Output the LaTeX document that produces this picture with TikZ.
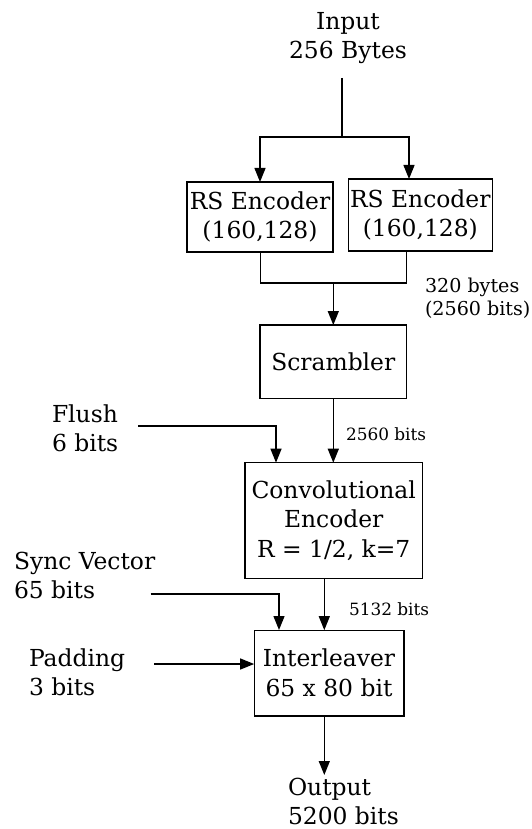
\documentclass[tikz,border=0pt]{standalone}
\usepackage{fontspec}
\setmainfont{DejaVu Serif}
\usetikzlibrary{arrows.meta}
\tikzset{
  x=1pt, y=-1pt,
  every node/.style={inner sep=0pt, outer sep=0pt},
  blk/.style={draw, line width=1.3pt, align=center, font=\fontsize{23.4}{29.5}\selectfont},
  lbl/.style={align=left, font=\fontsize{23.4}{29}\selectfont},
  clbl/.style={align=center, font=\fontsize{23.4}{29}\selectfont},
  midlbl/.style={align=left, font=\fontsize{19.1}{23}\selectfont},
  smalllbl/.style={align=left, font=\fontsize{16.9}{20}\selectfont},
  wire/.style={line width=1.3pt},
  arr/.style={wire, -{Triangle[length=14pt,width=11pt]}}
}
\begin{document}
\begin{tikzpicture}
\useasboundingbox (0,0) rectangle (531,829);

% processing blocks
\node[blk, minimum width=146pt, minimum height=70pt] (rs1) at (260,217) {RS Encoder\\(160,128)};
\node[blk, minimum width=144pt, minimum height=72pt] (rs2) at (420.3,215) {RS Encoder\\(160,128)};
\node[blk, minimum width=146.7pt, minimum height=73.3pt] (scr) at (333.3,361.7) {Scrambler};
\node[blk, minimum width=177.3pt, minimum height=115.6pt] (conv) at (333.7,520.5) {Convolutional\\Encoder\\R = 1/2, k=7};
\node[blk, minimum width=149.7pt, minimum height=85.7pt] (intl) at (329,673) {Interleaver\\65 x 80 bit};

% input / output / side labels (anchored at the last line's baseline)
\node[clbl, anchor=base] (in) at (348,59) {Input\\256 Bytes};
\node[lbl, anchor=base west] (out) at (288,824) {Output\\5200 bits};
\node[lbl, anchor=base west] (flush) at (52,451.7) {Flush\\6 bits};
\node[lbl, anchor=base west] (sync) at (14,598) {Sync Vector\\65 bits};
\node[lbl, anchor=base west] (pad) at (29,695) {Padding\\3 bits};
\node[midlbl, anchor=base west] (rsbits) at (425,315) {320 bytes\\(2560 bits)};
\node[smalllbl, anchor=base west] (scrbits) at (346,440.7) {2560 bits};
\node[smalllbl, anchor=base west] (convbits) at (349,615) {5132 bits};

% wiring points
\coordinate (inTop) at (342,78);
\coordinate (fork) at (342,137);
\coordinate (r2in) at (409,179);
\coordinate (merge) at (333.3,283);
\coordinate (r1out) at (260.7,252);
\coordinate (r2out) at (406.7,251.7);
\coordinate (flushEnd) at (138,426);
\coordinate (flushIn) at (276,462.7);
\coordinate (convOut) at (324.3,578.3);
\coordinate (syncEnd) at (150.7,594);
\coordinate (syncIn) at (279,630);
\coordinate (padEnd) at (154,664);
\coordinate (outTip) at (324.3,775);

% connectors
\draw[wire] (inTop) -- (fork);
\draw[arr] (fork) -| (rs1.north);
\draw[arr] (fork) -| (r2in);
\draw[wire] (r1out) |- (merge) -| (r2out);
\draw[arr] (merge) -- (merge |- scr.north);
\draw[arr] (scr.south) -- (scr.south |- conv.north);
\draw[arr] (flushEnd) -| (flushIn);
\draw[arr] (convOut) -- (convOut |- intl.north);
\draw[arr] (syncEnd) -| (syncIn);
\draw[arr] (padEnd) -- (padEnd -| intl.west);
\draw[arr] (convOut |- intl.south) -- (outTip);
\end{tikzpicture}
\end{document}
